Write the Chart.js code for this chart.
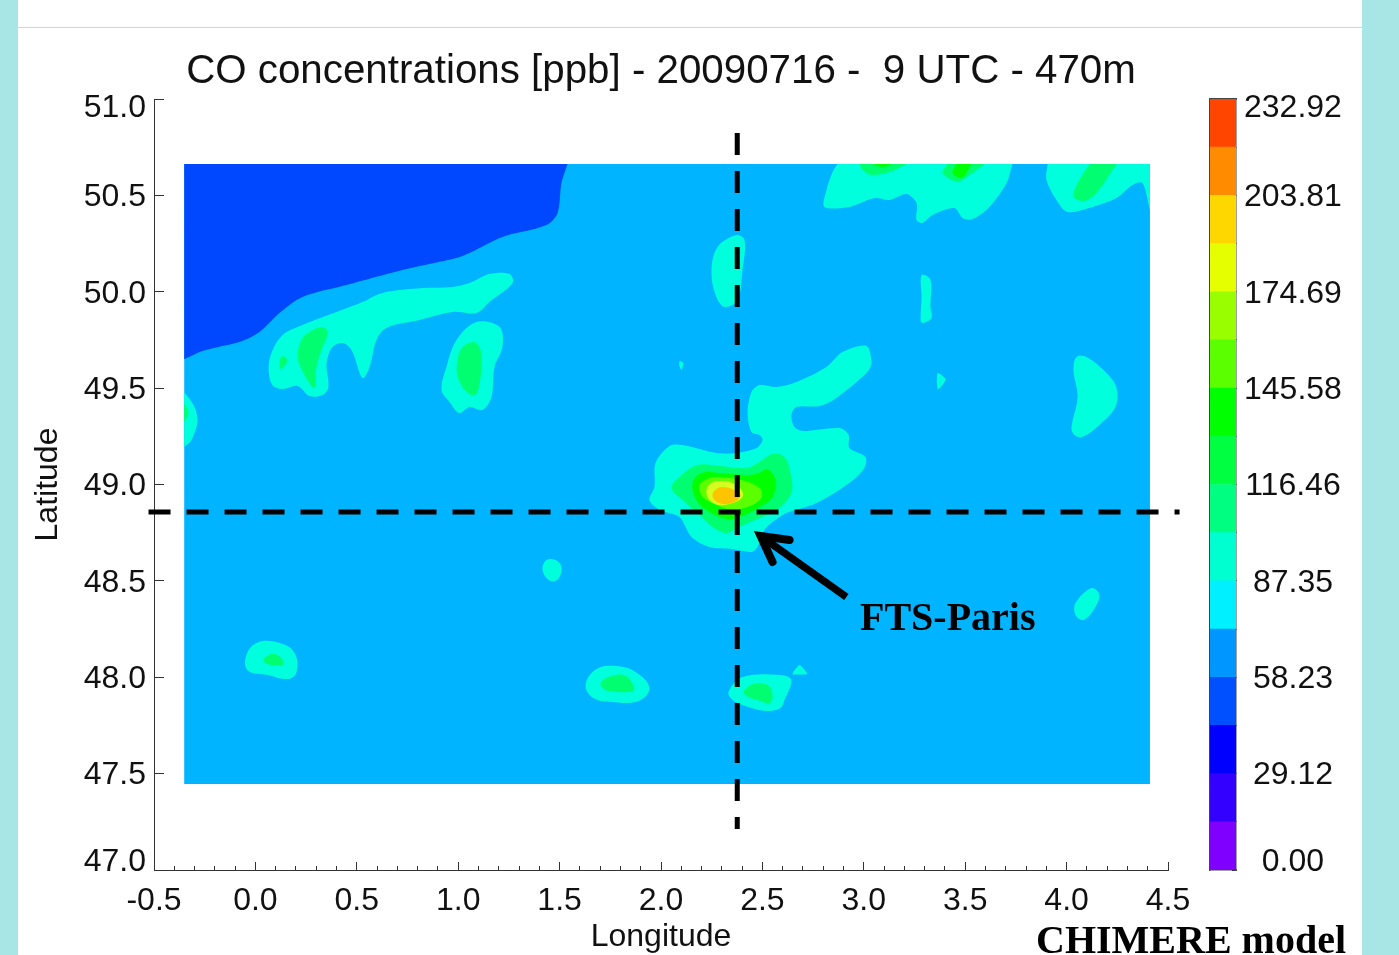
<!DOCTYPE html>
<html><head><meta charset="utf-8">
<script src="https://cdn.jsdelivr.net/npm/chart.js@4"></script>
<style>
html,body{margin:0;padding:0;width:1399px;height:955px;overflow:hidden;background:#A8E6E6}
#panel{position:absolute;left:18px;top:0;width:1344px;height:955px;background:#fff}
#rule{position:absolute;left:18px;top:27px;width:1344px;height:1px;background:#AEE6E6}
#main{position:absolute;left:0;top:0}
#bar{position:absolute;left:1180px;top:0}
.note{position:absolute;font:bold 40px/40px "Liberation Serif",serif;color:#000;white-space:nowrap}
</style></head><body>
<div id="panel"></div><div id="rule"></div>
<canvas id="main" width="1399" height="955"></canvas>
<canvas id="bar" width="219" height="955"></canvas>
<div class="note" style="left:860px;top:597px">FTS-Paris</div>
<div class="note" style="left:1036px;top:920px">CHIMERE model</div>
<script>
const titleText = 'CO concentrations [ppb] - 20090716 -  9 UTC - 470m';
const xTickValues = [-0.5,0,0.5,1,1.5,2,2.5,3,3.5,4,4.5];
const yTickValues = [47,47.5,48,48.5,49,49.5,50,50.5,51];
const colorbarLevels = [0,14.56,29.12,43.67,58.23,72.79,87.35,101.9,116.46,131.02,145.58,160.13,174.69,189.25,203.81,218.37,232.92];
const colorbarColors = ['#7F00FF','#3300FF','#0000FF','#0050FF','#0096FF','#00F0FF','#00FFD0','#00FF80','#00FF40','#00FF00','#5CFF00','#99FF00','#E6FF00','#FFD700','#FF8C00','#FF4500'];

// contour polygons, [longitude, latitude]
const domain = [[-0.351,50.663],[4.411,50.663],[4.411,47.446],[-0.351,47.446]];
// shapes that touch the domain edge: start and end on that edge
const lowNW = [[1.539,50.663],[1.509,50.564],[1.490,50.409],[1.435,50.346],[1.218,50.284],[1.056,50.201],[0.992,50.175],[0.725,50.113],[0.449,50.035],[0.232,49.973],[0.119,49.890],[0.020,49.791],[-0.064,49.745],[-0.261,49.693],[-0.351,49.651],[-0.351,49.66],[-0.351,50.663]];
const blobWest = [[-0.351,49.480],[-0.300,49.402],[-0.286,49.324],[-0.315,49.231],[-0.351,49.195]];
const blobWestCore = [[-0.351,49.423],[-0.330,49.371],[-0.351,49.324]];
const topA = [[3.733,50.663],[3.704,50.564],[3.620,50.440],[3.536,50.377],[3.487,50.383],[3.447,50.434],[3.339,50.398],[3.289,50.357],[3.260,50.372],[3.260,50.460],[3.211,50.507],[3.127,50.476],[3.053,50.486],[2.929,50.440],[2.806,50.440],[2.816,50.528],[2.846,50.621],[2.870,50.663]];
const topACore1 = [[3.211,50.663],[3.127,50.621],[3.038,50.606],[2.994,50.632],[2.979,50.663]];
const topACore1b = [[3.141,50.663],[3.092,50.647],[3.043,50.663]];
const topACore2 = [[3.413,50.663],[3.388,50.616],[3.457,50.569],[3.487,50.580],[3.595,50.663]];
const topACore2b = [[3.531,50.663],[3.482,50.590],[3.437,50.616],[3.457,50.663]];
const topB = [[3.906,50.663],[3.901,50.580],[3.950,50.476],[4.004,50.414],[4.128,50.440],[4.246,50.486],[4.325,50.554],[4.374,50.564],[4.411,50.424],[4.411,50.43],[4.411,50.663]];
const topBCore = [[4.246,50.663],[4.147,50.512],[4.088,50.471],[4.034,50.492],[4.054,50.564],[4.113,50.663]];
// interior closed shapes
const plumeNorth = [[1.253,50.092],[1.154,50.092],[1.056,50.045],[0.972,50.025],[0.824,50.019],[0.627,49.994],[0.528,49.947],[0.400,49.895],[0.232,49.828],[0.134,49.776],[0.079,49.682],[0.065,49.594],[0.084,49.516],[0.134,49.495],[0.208,49.511],[0.267,49.459],[0.331,49.464],[0.360,49.506],[0.351,49.630],[0.380,49.713],[0.429,49.734],[0.474,49.698],[0.528,49.553],[0.563,49.610],[0.597,49.750],[0.646,49.812],[0.809,49.853],[0.972,49.895],[1.090,49.890],[1.154,49.947],[1.268,50.045]];
const plumeNorthCore = [[0.331,49.817],[0.356,49.786],[0.326,49.698],[0.301,49.610],[0.291,49.501],[0.242,49.568],[0.208,49.661],[0.227,49.750],[0.267,49.791]];
const plumeNorthSpot = [[0.134,49.667],[0.158,49.646],[0.139,49.610],[0.124,49.599],[0.119,49.641]];
const blobRouen = [[1.090,49.843],[1.204,49.817],[1.218,49.713],[1.179,49.610],[1.164,49.454],[1.120,49.387],[1.056,49.402],[1.006,49.371],[0.957,49.428],[0.918,49.490],[0.942,49.610],[0.992,49.750]];
const blobRouenCore = [[1.080,49.739],[1.110,49.698],[1.115,49.610],[1.090,49.470],[1.046,49.475],[0.997,49.558],[0.997,49.646],[1.021,49.713]];
const stripEast = [[3.285,50.087],[3.329,50.061],[3.329,49.921],[3.334,49.864],[3.289,49.838],[3.280,49.853],[3.285,49.973]];
const speckEast = [[3.364,49.578],[3.403,49.547],[3.388,49.516],[3.364,49.495]];
const kidneyEast = [[4.049,49.661],[4.098,49.661],[4.197,49.578],[4.246,49.501],[4.241,49.402],[4.162,49.309],[4.078,49.246],[4.039,49.257],[4.024,49.293],[4.054,49.454],[4.034,49.594]];
const blobNorthCentre = [[2.372,50.294],[2.412,50.268],[2.402,50.113],[2.377,49.957],[2.313,49.921],[2.269,49.983],[2.249,50.113],[2.279,50.232]];
const parisOuter = [[3.013,49.719],[3.038,49.630],[3.013,49.578],[2.865,49.449],[2.782,49.407],[2.668,49.402],[2.643,49.361],[2.658,49.298],[2.698,49.278],[2.880,49.293],[2.925,49.257],[2.929,49.189],[3.008,49.143],[3.003,49.086],[2.929,49.008],[2.767,48.904],[2.619,48.852],[2.550,48.805],[2.510,48.764],[2.476,48.676],[2.446,48.650],[2.353,48.665],[2.239,48.676],[2.150,48.728],[2.091,48.831],[1.993,48.868],[1.943,48.920],[1.968,48.987],[1.973,49.112],[2.042,49.200],[2.106,49.205],[2.274,49.163],[2.372,49.163],[2.471,49.189],[2.501,49.231],[2.486,49.257],[2.446,49.272],[2.427,49.371],[2.446,49.480],[2.486,49.516],[2.570,49.506],[2.668,49.532],[2.816,49.610],[2.895,49.687]];
const parisSpring = [[2.550,49.158],[2.609,49.143],[2.638,49.060],[2.643,48.956],[2.570,48.868],[2.486,48.826],[2.372,48.774],[2.323,48.748],[2.254,48.780],[2.190,48.842],[2.106,48.920],[2.052,48.982],[2.091,49.039],[2.180,49.101],[2.288,49.096],[2.422,49.086],[2.486,49.117]];
const parisGreen = [[2.525,49.080],[2.565,49.023],[2.550,48.935],[2.486,48.883],[2.387,48.831],[2.323,48.821],[2.239,48.857],[2.175,48.920],[2.155,49.008],[2.200,49.060],[2.288,49.060],[2.422,49.049],[2.486,49.060]];
const parisLime = [[2.397,49.023],[2.486,48.982],[2.496,48.935],[2.451,48.894],[2.353,48.868],[2.274,48.894],[2.205,48.935],[2.190,48.997],[2.229,49.029],[2.288,49.039]];
const parisYellow = [[2.288,49.018],[2.353,49.008],[2.397,48.972],[2.402,48.935],[2.353,48.904],[2.288,48.894],[2.239,48.920],[2.224,48.972],[2.249,49.008]];
const parisPeak = [[2.303,48.987],[2.362,48.972],[2.392,48.946],[2.362,48.909],[2.303,48.899],[2.264,48.920],[2.254,48.951],[2.274,48.977]];
const speckCentre = [[2.091,49.641],[2.111,49.630],[2.101,49.594],[2.091,49.615]];
const blobOrleansN = [[1.455,48.614],[1.500,48.593],[1.509,48.546],[1.480,48.499],[1.440,48.510],[1.416,48.556],[1.426,48.598]];
const blobReims = [[4.123,48.463],[4.162,48.427],[4.133,48.349],[4.083,48.297],[4.044,48.323],[4.044,48.385]];
const blobLeMans = [[0.005,48.178],[0.119,48.178],[0.193,48.126],[0.203,48.027],[0.163,47.991],[0.060,48.012],[-0.034,48.032],[-0.049,48.100]];
const blobLeMansCore = [[0.040,48.090],[0.079,48.121],[0.129,48.100],[0.134,48.064],[0.060,48.069]];
const blobOrleans = [[1.628,47.960],[1.682,48.043],[1.776,48.058],[1.874,48.027],[1.943,47.944],[1.889,47.877],[1.761,47.872],[1.667,47.892]];
const blobOrleansCore = [[1.702,47.970],[1.741,48.001],[1.815,48.012],[1.855,47.975],[1.864,47.929],[1.741,47.929],[1.712,47.944]];
const blobSouth = [[2.333,47.924],[2.402,48.001],[2.589,48.012],[2.643,47.986],[2.609,47.882],[2.589,47.841],[2.515,47.825],[2.402,47.856],[2.353,47.882]];
const blobSouthCore = [[2.407,47.924],[2.456,47.965],[2.525,47.960],[2.550,47.908],[2.535,47.866],[2.476,47.882],[2.431,47.898]];
const speckSouth = [[2.683,48.064],[2.722,48.017],[2.648,48.017]];

// site cross-hair and pointer
const crossLon = [[-0.527,48.857],[4.557,48.857]];
const crossLat = [[2.376,50.824],[2.376,47.213]];
const pointerHead = [[2.634,48.712],[2.491,48.733],[2.550,48.598]];
const pointerShaft = [[2.491,48.733],[2.914,48.416]];

const BASE='#00B4FF',LOW='#0048FF',AQUA='#00FFDC',SPRING='#00FF70',GREEN='#00FF00',LIME='#5CFF00',YEL='#D4FF20',GOLD='#FFC400';
// [shape, colour, tension, wrap round so the curve closes smoothly]
const fills = [
 [domain,BASE,0,false],[lowNW,LOW,.3,false],
 [plumeNorth,AQUA,.35,true],[plumeNorthCore,SPRING,.35,true],[plumeNorthSpot,SPRING,.3,true],
 [blobRouen,AQUA,.35,true],[blobRouenCore,SPRING,.35,true],
 [blobWest,AQUA,.3,false],[blobWestCore,SPRING,.3,false],
 [topA,AQUA,.3,false],[topACore1,SPRING,.3,false],[topACore1b,GREEN,.3,false],[topACore2,SPRING,.3,false],[topACore2b,GREEN,.3,false],
 [topB,AQUA,.3,false],[topBCore,SPRING,.3,false],
 [stripEast,AQUA,.35,true],[speckEast,AQUA,.25,true],[kidneyEast,AQUA,.35,true],[blobNorthCentre,AQUA,.35,true],
 [parisOuter,AQUA,.3,true],[parisSpring,SPRING,.35,true],[parisGreen,GREEN,.35,true],[parisLime,LIME,.35,true],[parisYellow,YEL,.4,true],[parisPeak,GOLD,.4,true],
 [speckCentre,AQUA,.2,true],[blobOrleansN,AQUA,.4,true],[blobReims,AQUA,.35,true],
 [blobLeMans,AQUA,.4,true],[blobLeMansCore,SPRING,.4,true],[blobOrleans,AQUA,.4,true],[blobOrleansCore,SPRING,.4,true],
 [blobSouth,AQUA,.35,true],[blobSouthCore,SPRING,.4,true],[speckSouth,AQUA,.15,true]
];
const pts = a => a.map(p => ({x:p[0],y:p[1]}));
const wrap = a => [a[a.length-1],...a,a[0],a[1]];
const datasets = fills.map((f,i) => ({
  data: pts(f[3] ? wrap(f[0]) : f[0]), showLine:true, pointRadius:0, borderWidth:0, borderColor:f[1],
  backgroundColor:f[1], fill:'shape', tension:f[2], order:1000-i
}));
const stroke = (a,w,extra) => Object.assign({data:pts(a),showLine:true,pointRadius:0,borderWidth:w,borderColor:'#000',fill:false,tension:0,clip:false,order:1},extra||{});
datasets.push(stroke(crossLon,5,{borderDash:[22,16]}));
datasets.push(stroke(crossLat,5,{borderDash:[22,16]}));
datasets.push(stroke(pointerShaft,7.5,{borderCapStyle:'butt'}));
datasets.push(stroke(pointerHead,8,{borderCapStyle:'round',borderJoinStyle:'miter'}));

const FONT='"Liberation Sans",Arial,sans-serif';
const INK='#111', AX='#333';
const shiftEnds = (id,first,last,all) => ({
  id:'shiftEnds'+id,
  beforeDraw(c){
    const items=c.scales[id].getLabelItems();
    if(items._done) return; items._done=true;
    const marked=items.filter(it=>it.label!=='');
    marked.forEach(it=>{it.options.translation[1]+=all;});
    marked[0].options.translation[1]+=first;
    marked[marked.length-1].options.translation[1]+=last;
  }
});
Chart.defaults.animation=false;
new Chart(document.getElementById('main'),{
  type:'scatter',
  data:{datasets},
  plugins:[shiftEnds('y',-10,7,2)],
  options:{
    responsive:false,devicePixelRatio:1,events:[],
    layout:{autoPadding:false,padding:{left:0,top:0,right:231,bottom:0}},
    plugins:{
      legend:{display:false},tooltip:{enabled:false},
      title:{display:true,text:titleText,fullSize:false,color:INK,
        font:{family:FONT,size:40.3,weight:'normal',lineHeight:1.2},padding:{top:48,bottom:2.64}}
    },
    scales:{
      x:{type:'linear',position:'bottom',min:-0.5,max:4.5,
        afterBuildTicks:s=>{s.ticks=xTickValues.map(v=>({value:v}));},
        afterFit:s=>{s.height=85;},
        grid:{drawOnChartArea:false,tickLength:-8,tickColor:AX,tickWidth:1},
        border:{color:AX,width:1},
        ticks:{autoSkip:false,maxRotation:0,color:INK,padding:20,font:{family:FONT,size:32},callback:v=>v.toFixed(1)},
        title:{display:true,text:'Longitude',color:INK,font:{family:FONT,size:32,lineHeight:1.2},padding:{top:0,bottom:-1}}
      },
      x2:{type:'linear',position:'bottom',weight:-1,min:-0.5,max:4.5,
        ticks:{display:false,stepSize:0.1,autoSkip:false},
        afterFit:s=>{s.height=0;},
        grid:{drawOnChartArea:false,tickLength:-4,tickColor:AX,tickWidth:1},
        border:{color:AX,width:1}
      },
      y:{type:'linear',position:'left',min:47,max:51,
        afterBuildTicks:s=>{s.ticks=yTickValues.map(v=>({value:v}));},
        afterFit:s=>{s.width=154;},
        grid:{drawOnChartArea:false,tickLength:-10,tickColor:AX,tickWidth:1},
        border:{color:AX,width:1},
        ticks:{autoSkip:false,color:INK,padding:18,font:{family:FONT,size:32},callback:v=>v.toFixed(1)},
        title:{display:true,text:'Latitude',color:INK,font:{family:FONT,size:32,lineHeight:1.2},padding:{top:29,bottom:0}}
      }
    }
  }
});

const bands = colorbarColors.map((col,i)=>({data:[[colorbarLevels[i],colorbarLevels[i+1]]],backgroundColor:col,borderWidth:0,grouped:false,barPercentage:1,categoryPercentage:1}));
const BORDER={color:'#444',width:1.5};
new Chart(document.getElementById('bar'),{
  type:'bar',
  data:{labels:['CO'],datasets:bands},
  plugins:[shiftEnds('y',-10,7,2)],
  options:{
    responsive:false,devicePixelRatio:1,events:[],
    layout:{autoPadding:false,padding:0},
    plugins:{legend:{display:false},tooltip:{enabled:false},title:{display:false}},
    scales:{
      x:{position:'bottom',ticks:{display:false},grid:{display:false,drawTicks:false},border:BORDER,afterFit:s=>{s.height=85;}},
      xTop:{position:'top',type:'category',ticks:{display:false},grid:{display:false,drawTicks:false},border:BORDER,afterFit:s=>{s.height=99;}},
      yLeft:{position:'left',type:'linear',min:0,max:232.92,ticks:{display:false},grid:{display:false,drawTicks:false},border:BORDER,afterFit:s=>{s.width=30;}},
      y:{position:'right',min:0,max:232.92,
        afterBuildTicks:s=>{s.ticks=colorbarLevels.map(v=>({value:v}));},
        afterFit:s=>{s.width=163;},
        grid:{drawOnChartArea:false,tickLength:-4,tickColor:'#222',tickWidth:1},
        border:BORDER,
        ticks:{autoSkip:false,crossAlign:'center',color:INK,padding:12,font:{family:FONT,size:32},
          callback:(v,i)=> i%2===0 ? v.toFixed(2) : ''}
      }
    }
  }
});
</script>
</body></html>
